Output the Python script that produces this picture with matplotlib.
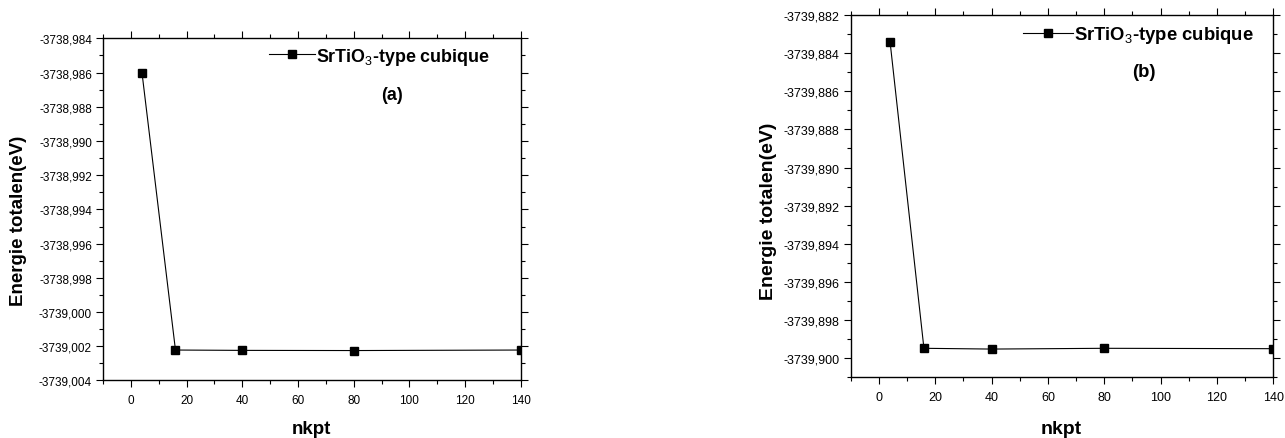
import matplotlib
matplotlib.use("Agg")
import matplotlib.pyplot as plt
from matplotlib.ticker import MultipleLocator, FuncFormatter

plt.rcParams['font.family'] = ['Liberation Sans', 'DejaVu Sans']
plt.rcParams['mathtext.fontset'] = 'custom'
plt.rcParams['mathtext.rm'] = 'Liberation Sans'
plt.rcParams['mathtext.bf'] = 'Liberation Sans:bold'

# k-point convergence of the total energy
nkpt = [4, 16, 40, 80, 140]
energie_a = [-3738.98604, -3739.00222, -3739.00224, -3739.00225, -3739.00222]
energie_b = [-3739.88343, -3739.89948, -3739.89952, -3739.89948, -3739.89950]

legend_label = r"SrTiO$_{3}$-type cubique"


def comma_fmt(v, pos):
    return f"{v:.3f}".replace('.', ',')


def draw_panel(ax, y, ylim, tag, tag_pos, leg_pos, fs_tick, fs_lab, fs_leg,
               xlab_pos, ylab_pos, handlelen):
    ax.plot(nkpt, y, color='black', lw=0.8, marker='s', markersize=5.5,
            markerfacecolor='black', markeredgecolor='black',
            label=legend_label)
    ax.set_xlim(-10, 140)
    ax.set_ylim(*ylim)
    ax.xaxis.set_major_locator(MultipleLocator(20))
    ax.xaxis.set_minor_locator(MultipleLocator(10))
    ax.yaxis.set_major_locator(MultipleLocator(0.002))
    ax.yaxis.set_minor_locator(MultipleLocator(0.001))
    ax.yaxis.set_major_formatter(FuncFormatter(comma_fmt))
    ax.tick_params(which='both', direction='out', width=0.8, colors='black',
                   top=True, right=True)
    ax.tick_params(which='major', length=5)
    ax.tick_params(which='minor', length=3)
    ax.tick_params(axis='x', labelsize=fs_tick, pad=5)
    ax.tick_params(axis='y', labelsize=fs_tick, pad=3)
    for sp in ax.spines.values():
        sp.set_linewidth(1.0)

    ax.set_xlabel('nkpt', fontsize=fs_lab, fontweight='bold')
    ax.xaxis.set_label_coords(*xlab_pos)
    ax.set_ylabel('Energie totalen(eV)', fontsize=fs_lab, fontweight='bold')
    ax.yaxis.set_label_coords(*ylab_pos)

    ax.legend(loc='center left', bbox_to_anchor=leg_pos, frameon=False,
              borderpad=0, borderaxespad=0, handlelength=handlelen,
              handletextpad=0.05, prop={'size': fs_leg, 'weight': 'bold'})
    ax.text(tag_pos[0], tag_pos[1], tag, transform=ax.transAxes,
            ha='center', va='center', fontsize=fs_leg, fontweight='bold')


fig = plt.figure(figsize=(12.85, 4.39), dpi=100)
ax_a = fig.add_axes([0.0802, 0.131, 0.3251, 0.7795])
ax_b = fig.add_axes([0.662, 0.1383, 0.3289, 0.8253])

draw_panel(ax_a, energie_a, (-3739.004, -3738.984), '(a)', (0.692, 0.837),
           (0.397, 0.948), 8.5, 13.5, 12.9, (0.498, -0.114), (-0.182, 0.469), 2.6)
draw_panel(ax_b, energie_b, (-3739.901, -3739.882), '(b)', (0.694, 0.843),
           (0.408, 0.945), 9, 14, 13.3, (0.498, -0.118), (-0.174, 0.462), 2.7)

fig.savefig('out.png', dpi=100)
